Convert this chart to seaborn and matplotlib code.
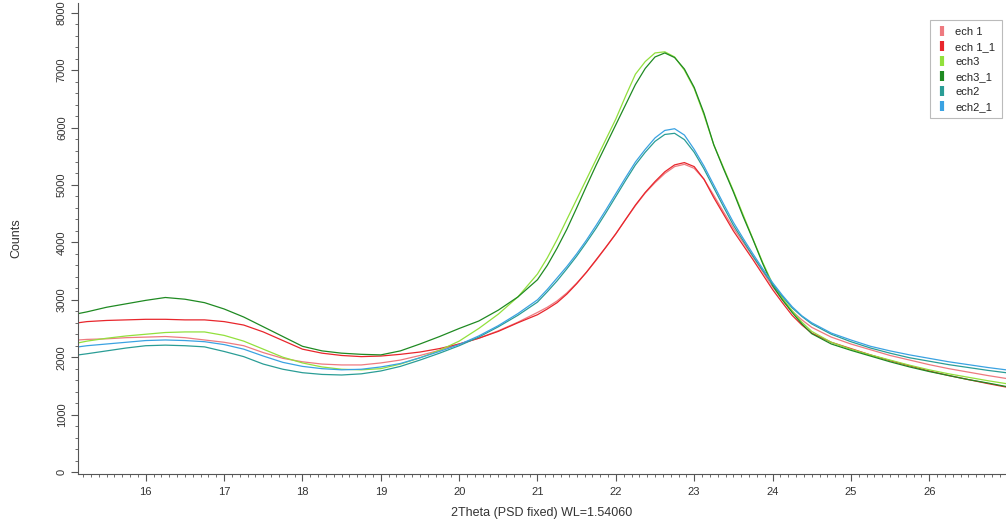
import numpy as np
import pandas as pd
import matplotlib
matplotlib.use("Agg")
import matplotlib.pyplot as plt
from matplotlib.lines import Line2D
from matplotlib.ticker import MultipleLocator
import seaborn as sns

two_theta = [15.14, 15.25, 15.5, 15.75, 16.0, 16.25, 16.5, 16.75, 17.0, 17.25, 17.5, 17.75,
             18.0, 18.25, 18.5, 18.75, 19.0, 19.25, 19.5, 19.75, 20.0, 20.25, 20.5, 20.75,
             21.0, 21.125, 21.25, 21.375, 21.5, 21.625, 21.75, 21.875,
             22.0, 22.125, 22.25, 22.375, 22.5, 22.625, 22.75, 22.875,
             23.0, 23.125, 23.25, 23.375, 23.5, 23.625, 23.75, 23.875,
             24.0, 24.125, 24.25, 24.375, 24.5,
             24.75, 25.0, 25.25, 25.5, 25.75, 26.0, 26.25, 26.5, 26.75, 26.98]

ech1 = [2300, 2310, 2320, 2340, 2350, 2360, 2340, 2300, 2260, 2200, 2080, 1980,
        1920, 1880, 1865, 1865, 1900, 1950, 2030, 2120, 2230, 2330, 2460, 2610,
        2780, 2870, 2980, 3120, 3290, 3480, 3690, 3920,
        4150, 4400, 4640, 4860, 5040, 5200, 5320, 5360,
        5290, 5100, 4820, 4530, 4250, 4000, 3750, 3490,
        3230, 3000, 2800, 2650, 2520,
        2350, 2230, 2130, 2030, 1950, 1870, 1800, 1740, 1680, 1630]

ech1_1 = [2600, 2620, 2640, 2650, 2660, 2660, 2650, 2650, 2620, 2560, 2440, 2290,
          2140, 2070, 2030, 2010, 2020, 2050, 2090, 2150, 2230, 2330, 2450, 2600,
          2740, 2840, 2950, 3100, 3280, 3480, 3700, 3920,
          4150, 4400, 4650, 4870, 5060, 5230, 5350, 5390,
          5320, 5100, 4780, 4490, 4200, 3950, 3700, 3440,
          3180, 2950, 2730, 2560, 2420,
          2260, 2150, 2040, 1940, 1850, 1760, 1680, 1610, 1540, 1480]

ech3 = [2250, 2280, 2330, 2370, 2400, 2430, 2440, 2440, 2380, 2280, 2140, 2000,
        1900, 1830, 1790, 1780, 1800, 1880, 1990, 2120, 2280, 2500, 2750, 3050,
        3450, 3730, 4050, 4400, 4750, 5100, 5450, 5800,
        6150, 6550, 6930, 7150, 7300, 7320, 7230, 7000,
        6680, 6220, 5700, 5300, 4900, 4480, 4060, 3650,
        3280, 3030, 2810, 2610, 2450,
        2260, 2140, 2040, 1950, 1860, 1780, 1710, 1650, 1590, 1540]

ech3_1 = [2760, 2790, 2870, 2930, 2990, 3040, 3010, 2950, 2840, 2700, 2530, 2360,
          2190, 2110, 2070, 2050, 2040, 2110, 2230, 2360, 2500, 2630, 2820, 3050,
          3350, 3600, 3900, 4230, 4600, 4980, 5350, 5700,
          6050, 6400, 6750, 7030, 7230, 7300, 7220, 7020,
          6700, 6250, 5700, 5280, 4880, 4450, 4050, 3630,
          3250, 3000, 2780, 2580, 2410,
          2230, 2120, 2020, 1920, 1830, 1750, 1680, 1610, 1550, 1490]

ech2 = [2040, 2060, 2110, 2160, 2200, 2210, 2200, 2180, 2100, 2010, 1880, 1790,
        1730, 1700, 1690, 1710, 1760, 1840, 1950, 2070, 2200, 2350, 2530, 2730,
        2960, 3140, 3330, 3540, 3760, 4000, 4250, 4520,
        4800, 5080, 5350, 5570, 5760, 5880, 5900, 5790,
        5570, 5280, 4950, 4620, 4300, 4030, 3760, 3510,
        3270, 3060, 2860, 2710, 2580,
        2400, 2270, 2160, 2070, 1990, 1930, 1870, 1820, 1770, 1730]

ech2_1 = [2180, 2200, 2230, 2260, 2290, 2300, 2290, 2270, 2220, 2140, 2020, 1910,
          1840, 1800, 1780, 1790, 1830, 1890, 1990, 2100, 2220, 2370, 2550, 2760,
          3000, 3180, 3380, 3580, 3800, 4040, 4300, 4570,
          4850, 5130, 5400, 5620, 5820, 5950, 5980, 5870,
          5620, 5330, 5000, 4670, 4350, 4070, 3800, 3540,
          3300, 3080, 2880, 2720, 2600,
          2420, 2300, 2190, 2110, 2040, 1980, 1920, 1870, 1820, 1780]

labels = ["ech 1", "ech 1_1", "ech3", "ech3_1", "ech2", "ech2_1"]
series = [ech1, ech1_1, ech3, ech3_1, ech2, ech2_1]
colors = ["#ee7a80", "#e8262c", "#92e03c", "#1f8a22", "#2a9d96", "#3aa2e2"]

x_label = "2Theta (PSD fixed) WL=1.54060"
y_label = "Counts"

rows = []
for lab, vals in zip(labels, series):
    for t, v in zip(two_theta, vals):
        rows.append({"2theta": t, "counts": v, "sample": lab})
df = pd.DataFrame(rows)

sns.set_style("white")
plt.rcParams["font.family"] = ["Liberation Sans", "DejaVu Sans"]

fig = plt.figure(figsize=(10.06, 5.26), dpi=100)
ax = fig.add_axes([78 / 1006, 52.5 / 526, 1 - 78 / 1006, 1 - 52.5 / 526 - 3 / 526])

sns.lineplot(data=df, x="2theta", y="counts", hue="sample", hue_order=labels,
             palette=dict(zip(labels, colors)), linewidth=0.9, legend=False, ax=ax,
             sort=False)

ax.set_xlim(15.135, 26.98)
ax.set_ylim(-26, 8170)

for s in ["top", "right"]:
    ax.spines[s].set_visible(False)
for s in ["left", "bottom"]:
    ax.spines[s].set_color("#555555")
    ax.spines[s].set_linewidth(0.8)

ax.xaxis.set_major_locator(MultipleLocator(1))
ax.xaxis.set_minor_locator(MultipleLocator(0.1))
ax.yaxis.set_major_locator(MultipleLocator(1000))
ax.yaxis.set_minor_locator(MultipleLocator(200))
ax.tick_params(axis="both", which="both", bottom=True, left=True, top=False, right=False)
ax.tick_params(axis="both", which="major", direction="out", length=5, width=0.8,
               color="#555555", labelsize=8, labelcolor="#333333")
ax.tick_params(axis="both", which="minor", direction="out", length=2.5, width=0.6,
               color="#555555")
ax.tick_params(axis="x", which="major", pad=5)
ax.tick_params(axis="y", which="major", pad=3)
for lbl in ax.get_yticklabels():
    lbl.set_rotation(90)
    lbl.set_va("center")

ax.set_xlabel(x_label, fontsize=9, color="#333333", labelpad=7)
ax.set_ylabel(y_label, fontsize=9, color="#333333", labelpad=0)
ax.yaxis.set_label_coords(-56 / 928, 0.5)

handles = [Line2D([0], [0], color=c, marker="|", linestyle="none", markersize=7,
                  markeredgewidth=3) for c in colors]
leg = ax.legend(handles, labels, loc="upper right",
                bbox_to_anchor=(1002 / 1006, 1 - 20 / 526), bbox_transform=fig.transFigure,
                fontsize=8, frameon=True, fancybox=False, framealpha=1,
                edgecolor="#bbbbbb", handlelength=1.0, handletextpad=0.7,
                borderpad=0.6, labelspacing=0.45, borderaxespad=0)
leg.get_frame().set_linewidth(0.8)

fig.savefig("out.png", dpi=100)
